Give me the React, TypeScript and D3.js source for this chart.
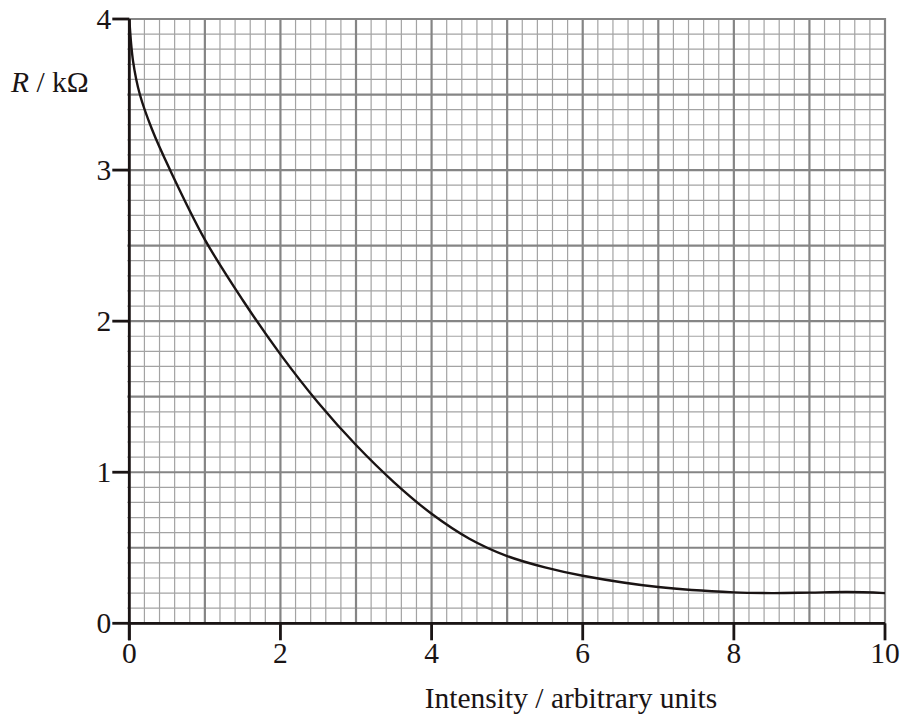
import React from "react";
import * as d3 from "d3";

const intensity = [0, 0.05, 0.14, 0.3, 0.54, 1.0, 1.5, 2.0, 2.5, 3.0, 3.5, 4.0, 4.5, 5.0, 5.5, 6.0, 7.0, 8.0, 8.5, 9.0, 9.5, 10];
const resistance = [4.0, 3.72, 3.5, 3.27, 3.0, 2.54, 2.14, 1.78, 1.46, 1.18, 0.935, 0.725, 0.56, 0.445, 0.37, 0.315, 0.24, 0.205, 0.2, 0.203, 0.207, 0.2];
const xTicks = [0, 2, 4, 6, 8, 10];
const yTicks = [0, 1, 2, 3, 4];

const W = 905;
const H = 716;
const FONT = "'Liberation Serif', 'Times New Roman', serif";

export default function App() {
  const x = d3.scaleLinear().domain([0, 10]).range([129.3, 885]);
  const y = d3.scaleLinear().domain([0, 4]).range([623.3, 19]);

  const xMinor = d3.range(0, 51).map((i) => i * 0.2);
  const yMinor = d3.range(0, 41).map((i) => i * 0.1);

  const data = intensity.map((v, i) => [v, resistance[i]] as [number, number]);
  const line = d3
    .line<[number, number]>()
    .x((d) => x(d[0]))
    .y((d) => y(d[1]))
    .curve(d3.curveCatmullRom.alpha(0.5));

  const minorColor = "#a3a3a3";
  const majorColor = "#858585";

  return (
    <svg
      width={W}
      height={H}
      style={{ position: "absolute", left: 0, top: 0, background: "#fff" }}
      fontFamily={FONT}
    >
      <rect x={0} y={0} width={W} height={H} fill="#fff" />
      {/* minor grid */}
      {xMinor
        .filter((_, i) => i % 5 !== 0)
        .map((v, i) => (
          <line key={"xm" + i} x1={x(v)} x2={x(v)} y1={y(4)} y2={y(0)} stroke={minorColor} strokeWidth={1.2} />
        ))}
      {yMinor
        .filter((_, i) => i % 5 !== 0)
        .map((v, i) => (
          <line key={"ym" + i} x1={x(0) - 2} x2={x(10)} y1={y(v)} y2={y(v)} stroke={minorColor} strokeWidth={1.2} />
        ))}
      {/* major grid */}
      {xMinor
        .filter((_, i) => i % 5 === 0)
        .map((v, i) => (
          <line key={"xM" + i} x1={x(v)} x2={x(v)} y1={y(4) - 1} y2={y(0)} stroke={majorColor} strokeWidth={2.2} />
        ))}
      {yMinor
        .filter((_, i) => i % 5 === 0)
        .map((v, i) => (
          <line key={"yM" + i} x1={x(0) - 2} x2={x(10) + 1} y1={y(v)} y2={y(v)} stroke={majorColor} strokeWidth={2.2} />
        ))}
      {/* curve */}
      <path d={line(data) || ""} fill="none" stroke="#1a1414" strokeWidth={2.4} />
      {/* axes */}
      <line x1={x(0)} x2={x(0)} y1={y(4)} y2={y(0) + 17} stroke="#1a1414" strokeWidth={2.8} />
      <line x1={x(0)} x2={x(10)} y1={y(0)} y2={y(0)} stroke="#1a1414" strokeWidth={2.8} />
      {yTicks.map((v) => (
        <g key={"yt" + v}>
          <line x1={x(0) - 17} x2={x(0)} y1={y(v)} y2={y(v)} stroke="#1a1414" strokeWidth={2.8} />
          <text x={x(0) - 18} y={y(v) + 10} textAnchor="end" fontSize={29.5} fill="#1a1414">
            {v}
          </text>
        </g>
      ))}
      {xTicks.map((v) => (
        <g key={"xt" + v}>
          <line x1={x(v)} x2={x(v)} y1={y(0)} y2={y(0) + 17} stroke="#1a1414" strokeWidth={2.8} />
          <text x={x(v)} y={662.5} textAnchor="middle" fontSize={29.5} fill="#1a1414">
            {v}
          </text>
        </g>
      ))}
      <text x={571} y={708} textAnchor="middle" fontSize={29.5} fill="#1a1414">
        Intensity / arbitrary units
      </text>
      <text x={11} y={92} fontSize={29.5} fill="#1a1414">
        <tspan fontStyle="italic">R</tspan>
        <tspan> / kΩ</tspan>
      </text>
    </svg>
  );
}
